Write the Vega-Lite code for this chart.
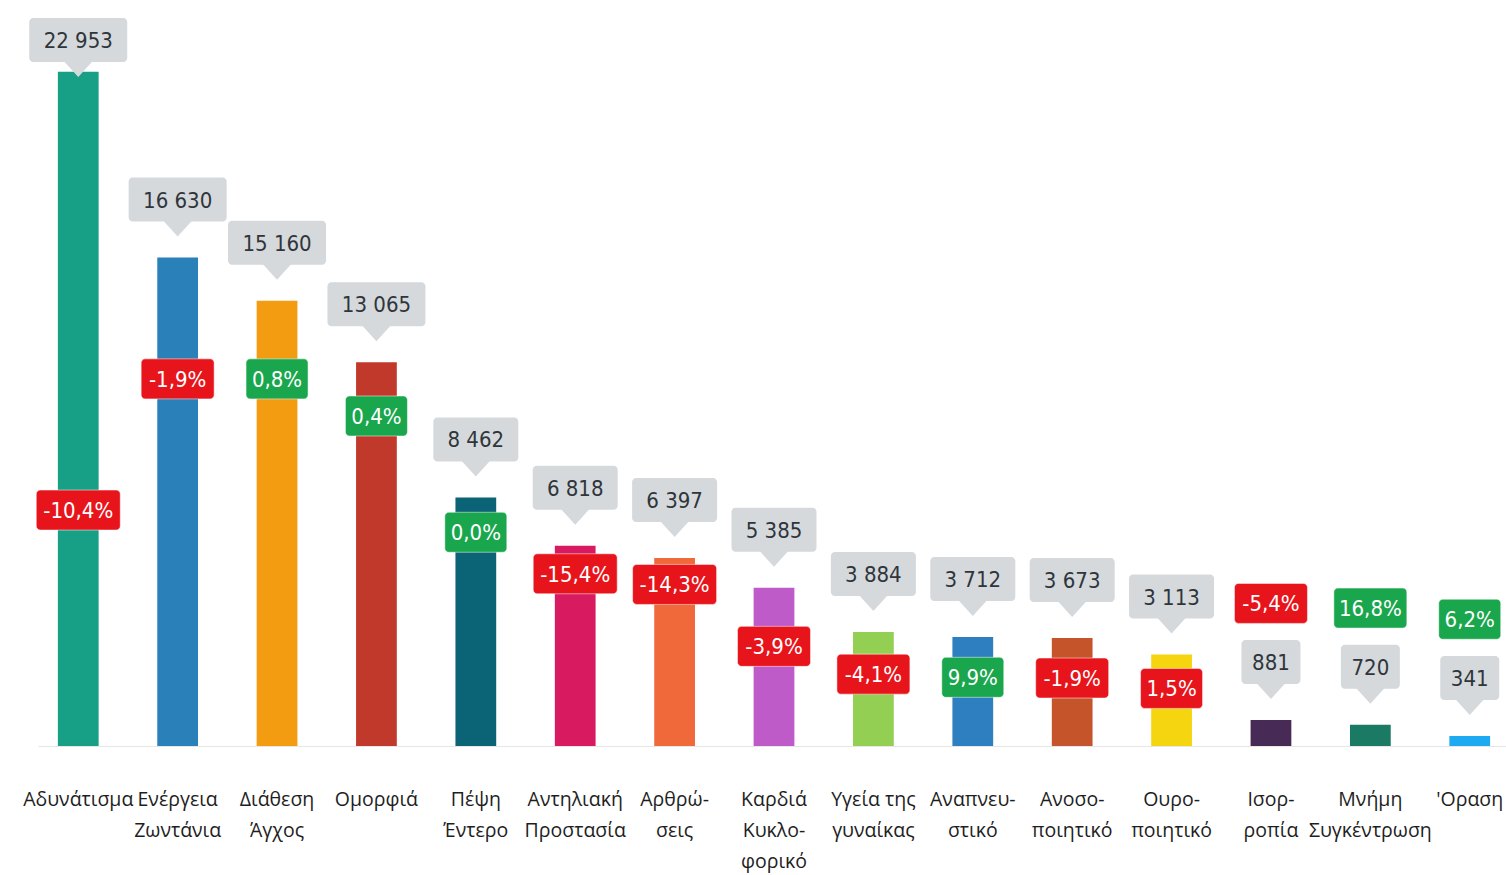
{
  "$schema": "https://vega.github.io/schema/vega-lite/v6.json",
  "width": 1472,
  "height": 746,
  "autosize": {"type": "none"},
  "padding": {"left": 38, "top": 0, "right": 0, "bottom": 129},
  "background": "white",
  "config": {"view": {"stroke": null}},
  "data": {
    "values": [
      {"cat": "Αδυνάτισμα", "value": 22953, "pct": "-10,4%", "dir": "down"},
      {"cat": "Ενέργεια|Ζωντάνια", "value": 16630, "pct": "-1,9%", "dir": "down"},
      {"cat": "Διάθεση|Άγχος", "value": 15160, "pct": "0,8%", "dir": "up"},
      {"cat": "Ομορφιά", "value": 13065, "pct": "0,4%", "dir": "up"},
      {"cat": "Πέψη|Έντερο", "value": 8462, "pct": "0,0%", "dir": "up"},
      {"cat": "Αντηλιακή|Προστασία", "value": 6818, "pct": "-15,4%", "dir": "down"},
      {"cat": "Αρθρώ-|σεις", "value": 6397, "pct": "-14,3%", "dir": "down"},
      {"cat": "Καρδιά|Κυκλο-|φορικό", "value": 5385, "pct": "-3,9%", "dir": "down"},
      {"cat": "Υγεία της|γυναίκας", "value": 3884, "pct": "-4,1%", "dir": "down"},
      {"cat": "Αναπνευ-|στικό", "value": 3712, "pct": "9,9%", "dir": "up"},
      {"cat": "Ανοσο-|ποιητικό", "value": 3673, "pct": "-1,9%", "dir": "down"},
      {"cat": "Ουρο-|ποιητικό", "value": 3113, "pct": "1,5%", "dir": "down"},
      {"cat": "Ισορ-|ροπία", "value": 881, "pct": "-5,4%", "dir": "down"},
      {"cat": "Μνήμη|Συγκέντρωση", "value": 720, "pct": "16,8%", "dir": "up"},
      {"cat": "'Οραση", "value": 341, "pct": "6,2%", "dir": "up"}
    ]
  },
  "transform": [
    {"calculate": "replace(format(datum.value, ','), ',', ' ')", "as": "vlabel"},
    {"calculate": "min(datum.value + 1975, 24040)", "as": "boxC"},
    {"calculate": "datum.boxC - 749", "as": "boxLo"},
    {"calculate": "datum.boxC + 749", "as": "boxHi"},
    {"calculate": "length(datum.vlabel) * 13 + 20", "as": "boxW"},
    {"calculate": "datum.value < 2000 ? datum.boxC + 2000 : (datum.value < 6000 ? datum.value * 0.63 : (datum.value > 20000 ? datum.value * 0.35 : min(datum.value * 0.86, 12500)))", "as": "pctC"},
    {"calculate": "datum.pctC - 681", "as": "pctLo"},
    {"calculate": "datum.pctC + 681", "as": "pctHi"},
    {"calculate": "length(datum.pct) * 11 + 18", "as": "pctW"}
  ],
  "encoding": {
    "x": {
      "field": "cat",
      "type": "nominal",
      "sort": null,
      "scale": {"paddingInner": 0.59, "paddingOuter": 0.2},
      "axis": {
        "title": null,
        "labelExpr": "split(datum.label, '|')",
        "labelAngle": 0,
        "ticks": false,
        "labelPadding": 44,
        "labelFont": "Open Sans",
        "labelFontSize": 19.5,
        "labelColor": "#1e1e1e",
        "labelLineHeight": 31,
        "domainColor": "#e6e6e6",
        "labelOverlap": false,
        "labelBound": false,
        "labelLimit": 0
      }
    }
  },
  "layer": [
    {
      "mark": {"type": "bar"},
      "encoding": {
        "y": {"field": "value", "type": "quantitative", "scale": {"domain": [0, 25400], "nice": false}, "axis": null},
        "color": {
          "field": "cat",
          "type": "nominal",
          "sort": null,
          "legend": null,
          "scale": {
            "range": ["#17a085", "#2a80b9", "#f39c12", "#c0392b", "#0b6376", "#d81b60", "#f0693a", "#bf5bc9", "#93cf52", "#2d7fc0", "#c6542a", "#f5d50f", "#482a57", "#1a7a64", "#1eaaf1"]
          }
        }
      }
    },
    {
      "mark": {"type": "bar", "color": "#d5d9dc", "cornerRadius": 4},
      "encoding": {
        "y": {"field": "boxLo", "type": "quantitative", "axis": null},
        "y2": {"field": "boxHi"},
        "size": {"field": "boxW", "type": "quantitative", "scale": null}
      }
    },
    {
      "mark": {"type": "point", "shape": "M-1,-0.1L1,-0.1L0,1Z", "filled": true, "color": "#d5d9dc", "opacity": 1, "size": 900, "strokeWidth": 0},
      "encoding": {
        "y": {"field": "boxLo", "type": "quantitative", "axis": null}
      }
    },
    {
      "mark": {"type": "text", "font": "DejaVu Sans Condensed, Roboto Condensed, Roboto, sans-serif", "fontSize": 22, "color": "#2f353b", "baseline": "middle", "align": "center", "dy": 1},
      "encoding": {
        "y": {"field": "boxC", "type": "quantitative", "axis": null},
        "text": {"field": "vlabel"}
      }
    },
    {
      "mark": {"type": "bar", "cornerRadius": 4, "stroke": "#ffffff", "strokeOpacity": 0.5, "strokeWidth": 1},
      "encoding": {
        "y": {"field": "pctLo", "type": "quantitative", "axis": null},
        "y2": {"field": "pctHi"},
        "size": {"field": "pctW", "type": "quantitative", "scale": null},
        "color": {"field": "dir", "type": "nominal", "legend": null, "scale": {"domain": ["up", "down"], "range": ["#19a64d", "#e8141b"]}}
      }
    },
    {
      "mark": {"type": "text", "font": "DejaVu Sans Condensed, Roboto Condensed, Roboto, sans-serif", "fontSize": 22, "color": "white", "baseline": "middle", "align": "center", "dy": 1},
      "encoding": {
        "y": {"field": "pctC", "type": "quantitative", "axis": null},
        "text": {"field": "pct"}
      }
    }
  ],
  "resolve": {"scale": {"color": "independent"}}
}
